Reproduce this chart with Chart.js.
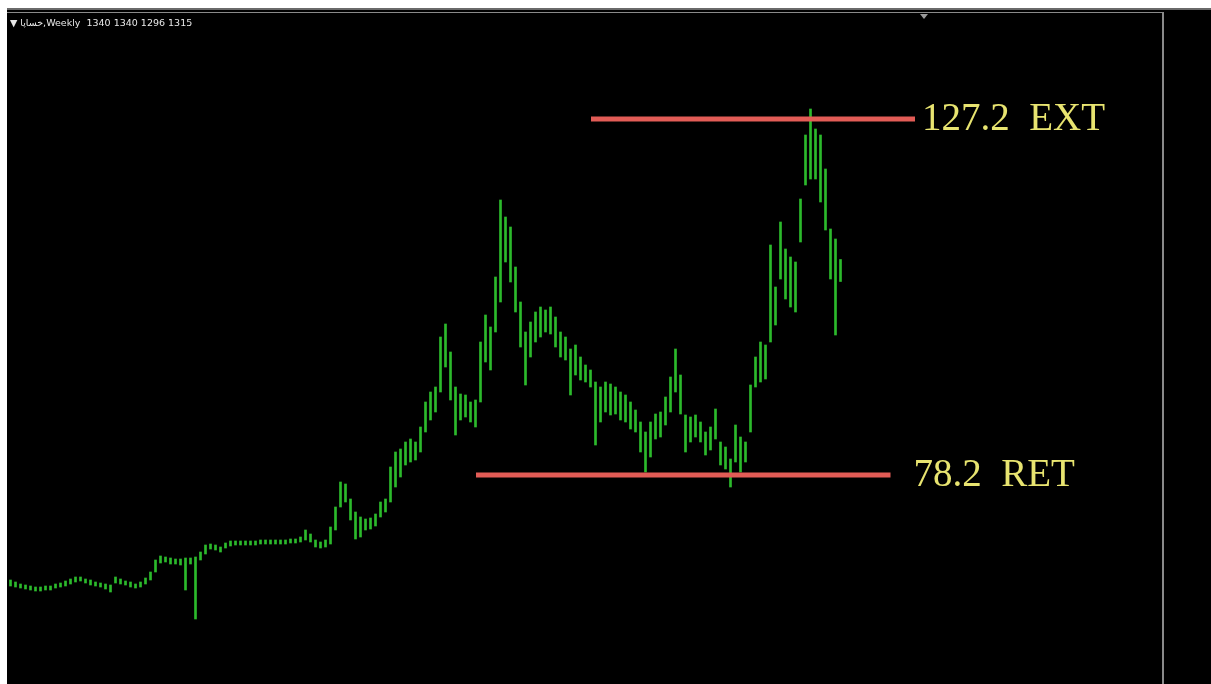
<!DOCTYPE html>
<html>
<head>
<meta charset="utf-8">
<script src="https://cdn.jsdelivr.net/npm/chart.js@4.4.1/dist/chart.umd.min.js"></script>
<style>
  html, body { margin: 0; padding: 0; background: #fff; width: 1211px; height: 684px; overflow: hidden; }
  #frame { position: absolute; left: 7px; top: 8px; width: 1204px; height: 676px; background: #000; border-top: 2px solid #6a6a6a; box-sizing: border-box; }
  #plot { position: absolute; left: 0; top: 2px; width: 1157px; height: 674px; border-top: 1px solid #8a8a8a; border-right: 2px solid #8a8a8a; box-sizing: border-box; }
  #wrap { position: absolute; left: 1px; top: 1px; width: 1154px; height: 672px; }
  #header { position: absolute; left: 3px; top: 4px; color: #e8e8e8; font: 9.5px "DejaVu Sans", sans-serif; white-space: nowrap; }
  #marker { position: absolute; left: 913px; top: 1px; width: 0; height: 0; border-left: 4px solid transparent; border-right: 4px solid transparent; border-top: 5px solid #9a9a9a; }
</style>
</head>
<body>
<div id="frame">
  <div id="plot">
    <div id="wrap"><canvas id="grafico"></canvas></div>
    <div id="header">▼ <span dir="rtl">خساپا</span>,Weekly&nbsp; 1340 1340 1296 1315</div>
    <div id="marker"></div>
  </div>
</div>
<script>
// weekly highs / lows, oldest first
const highs = [
  699, 695, 691, 689, 687, 685, 685, 687, 687, 691,
  693, 697, 701, 705, 705, 701, 699, 695, 693, 691,
  689, 705, 701, 697, 695, 691, 695, 703, 715, 739,
  747, 745, 743, 741, 741, 743, 743, 745, 755, 769,
  771, 769, 765, 773, 777, 777, 777, 777, 777, 777,
  779, 779, 779, 779, 779, 779, 781, 781, 785, 799,
  791, 779, 775, 779, 805, 845, 895, 891, 861, 835,
  825, 821, 823, 831, 855, 861, 925, 955, 961, 975,
  981, 975, 1005, 1055, 1075, 1085, 1185, 1211, 1155, 1085,
  1071, 1069, 1055, 1059, 1175, 1229, 1205, 1305, 1459, 1425,
  1405, 1325, 1255, 1195, 1215, 1235, 1245, 1239, 1245, 1225,
  1195, 1185, 1161, 1169, 1145, 1129, 1119, 1095, 1085, 1095,
  1091, 1085, 1075, 1069, 1055, 1039, 1015, 995, 1015, 1031,
  1035, 1065, 1105, 1161, 1109, 1029, 1025, 1029, 1015, 995,
  1005, 1041, 975, 965, 941, 1009, 985, 975, 1089, 1145,
  1175, 1169, 1369, 1285, 1415, 1361, 1345, 1335, 1461, 1589,
  1641, 1601, 1589, 1521, 1401, 1381, 1340
];
const lows = [
  687, 685, 683, 681, 679, 677, 677, 679, 679, 683,
  685, 687, 691, 695, 697, 693, 689, 687, 685, 681,
  675, 693, 691, 689, 685, 683, 685, 691, 699, 715,
  733, 735, 731, 731, 729, 679, 731, 621, 739, 751,
  761, 759, 755, 763, 767, 769, 769, 769, 769, 769,
  771, 771, 771, 771, 771, 771, 773, 773, 775, 779,
  775, 765, 763, 765, 771, 799, 845, 855, 819, 781,
  785, 799, 801, 807, 825, 835, 855, 885, 905, 929,
  935, 939, 955, 995, 1019, 1035, 1075, 1125, 1059, 989,
  1019, 1025, 1015, 1005, 1055, 1135, 1119, 1195, 1255, 1335,
  1295, 1235, 1165, 1089, 1145, 1175, 1185, 1195, 1191, 1165,
  1145, 1139, 1069, 1109, 1099, 1095, 1085, 969, 1015, 1035,
  1029, 1031, 1019, 1015, 1001, 995, 955, 915, 945, 981,
  985, 1009, 1035, 1075, 1031, 955, 975, 985, 975, 949,
  959, 981, 929, 921, 885, 935, 915, 935, 995, 1085,
  1095, 1101, 1175, 1209, 1301, 1261, 1245, 1235, 1375, 1489,
  1501, 1501, 1455, 1399, 1301, 1189, 1296
];

// fibonacci levels drawn on the chart
const levelNames = ["127.2  EXT", "78.2  RET"];
const levelPrices = [1621, 909];
const levelFrom = [116.1, 93.1];
const levelTo = [180.9, 176];

const barras = highs.map((h, i) => ({ x: i, y: [lows[i], h] }));

const rotulosNiveis = {
  id: "rotulosNiveis",
  afterDatasetsDraw(chart) {
    const { ctx, scales } = chart;
    ctx.save();
    ctx.fillStyle = "rgb(232, 228, 112)";
    ctx.font = '39px "Liberation Serif", "DejaVu Serif", serif';
    ctx.textBaseline = "middle";
    levelNames.forEach((nome, i) => {
      const x = scales.x.getPixelForValue(levelTo[i]) + (i === 0 ? 7 : 23);
      const y = scales.y.getPixelForValue(levelPrices[i]) + 1;
      ctx.fillText(nome, x, y);
    });
    ctx.restore();
  },
};

const niveis = levelNames.map((nome, i) => ({
  type: "line",
  label: nome,
  data: [
    { x: levelFrom[i], y: levelPrices[i] },
    { x: levelTo[i], y: levelPrices[i] },
  ],
  borderColor: "rgb(226, 92, 86)",
  borderWidth: 5,
  pointRadius: 0,
  order: 0,
}));

new Chart(document.getElementById("grafico"), {
  type: "bar",
  data: {
    datasets: [
      {
        label: "Weekly",
        data: barras,
        backgroundColor: "rgb(44, 186, 44)",
        barThickness: 2,
        borderSkipped: false,
        order: 1,
      },
      ...niveis,
    ],
  },
  options: {
    responsive: true,
    maintainAspectRatio: false,
    animation: false,
    layout: { padding: 0 },
    plugins: { legend: { display: false }, tooltip: { enabled: false } },
    scales: {
      x: { type: "linear", min: -0.5, max: 230.3, offset: false, display: false },
      y: { min: 487, max: 1831, display: false },
    },
  },
  plugins: [rotulosNiveis],
});
</script>
</body>
</html>
